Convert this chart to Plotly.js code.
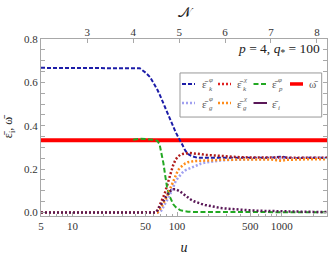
<!DOCTYPE html>
<html><head><meta charset="utf-8">
<script src="https://cdn.plot.ly/plotly-3.0.1.min.js"></script>
<style>html,body{margin:0;padding:0;background:#fff}#chart{width:332px;height:258px}</style>
</head><body><div id="chart"></div>
<script>
// ---- data ----
const u = [5, 10, 20, 30, 38, 44, 50, 55, 60, 62, 65, 68, 71, 74, 77, 80, 84, 88, 92, 97, 102, 107, 113, 120, 127, 135, 145, 155, 170, 185, 200, 230, 260, 300, 350, 400, 500, 600, 700, 800, 900, 1000, 1100, 1300, 1600, 2000, 2400, 2712];
const epsKphi = [0.667,0.667,0.667,0.667,0.667,0.665,0.645,0.625,0.595,0.585,0.565,0.545,0.523,0.503,0.483,0.462,0.44,0.42,0.395,0.37,0.35,0.333,0.31,0.285,0.27,0.262,0.256,0.253,0.252,0.252,0.253,0.254,0.252,0.251,0.252,0.253,0.252,0.251,0.252,0.253,0.256,0.258,0.254,0.251,0.252,0.253,0.252,0.252];
const epsKchi = [0,0,0,0,0,0,0,0,0,0,0.01,0.03,0.05,0.073,0.095,0.125,0.16,0.19,0.22,0.245,0.258,0.266,0.27,0.273,0.274,0.274,0.273,0.272,0.269,0.266,0.265,0.262,0.259,0.257,0.256,0.255,0.254,0.253,0.253,0.254,0.253,0.255,0.253,0.253,0.254,0.253,0.253,0.253];
const epsPphi = [null,null,null,null,0.336,0.34,0.339,0.338,0.336,0.334,0.33,0.315,0.27,0.228,0.17,0.12,0.08,0.055,0.038,0.025,0.016,0.011,0.008,0.005,0.004,0.003,0.003,0.003,0.002,0.002,0.002,0.002,0.002,0.002,0.001,0.001,0.001,0.001,0.001,0.001,0.001,0.001,0.001,0.001,0.001,0.001,0.001,0.001];
const epsGphi = [0,0,0,0,0,0,0,0,0,0,0,0,0.01,0.025,0.04,0.055,0.075,0.095,0.118,0.145,0.16,0.172,0.185,0.195,0.2,0.207,0.214,0.219,0.226,0.23,0.233,0.237,0.24,0.242,0.244,0.245,0.246,0.247,0.247,0.248,0.248,0.249,0.248,0.249,0.249,0.249,0.249,0.249];
const epsGchi = [0,0,0,0,0,0,0,0,0,0,0,0.01,0.025,0.04,0.058,0.075,0.1,0.125,0.15,0.175,0.195,0.207,0.218,0.227,0.232,0.235,0.237,0.238,0.238,0.239,0.239,0.241,0.243,0.244,0.245,0.245,0.245,0.245,0.246,0.244,0.241,0.239,0.243,0.245,0.245,0.246,0.245,0.245];
const epsI = [0,0,0,0,0,0,0,0,0,0,0.01,0.025,0.04,0.055,0.07,0.083,0.095,0.103,0.107,0.107,0.103,0.097,0.088,0.078,0.068,0.06,0.052,0.046,0.04,0.035,0.031,0.025,0.021,0.018,0.015,0.013,0.01,0.008,0.007,0.006,0.006,0.005,0.005,0.004,0.004,0.003,0.003,0.003];
const omegaU = [5, 2712];
const omegaBar = [1/3, 1/3];

// ---- ticks ----
const uTickVals = [5, 10, 50, 100, 500, 1000];
const uTickText = ['5', '10', '50', '100', '500', '1000'];
const uMinorVals = [6,7,8,9,20,30,40,60,70,80,90,200,300,400,600,700,800,900,2000];
const nTickVals = [3, 4, 5, 6, 7, 8];
const nTickText = ['3', '4', '5', '6', '7', '8'];
const yTickVals = [0, 0.2, 0.4, 0.6, 0.8];

// ---- styles ----
const FONT = 'Liberation Serif, DejaVu Serif, serif';
const C = {kphi:'#1c1ca8', kchi:'#b01c1c', pphi:'#22a822', omega:'#ff0000', gphi:'#a0a0f0', gchi:'#ff8c1a', i:'#5a1858'};
const AX = '#a8a8a8';

const W = 332, H = 258;
const M = {l:41, r:5, t:39.4, b:41.9};
const pw = W - M.l - M.r, ph = H - M.t - M.b;
const px = x => (x - M.l) / pw;
const py = y => (H - M.b - y) / ph;

const traces = [
  {x: omegaU, y: omegaBar, mode:'lines', line:{color:C.omega, width:4}, hoverinfo:'skip'},
  {x: u, y: epsKphi, mode:'lines', line:{color:C.kphi, width:2, dash:'4px,2px'}},
  {x: u, y: epsKchi, mode:'lines', line:{color:C.kchi, width:2.5, dash:'2px,2px'}},
  {x: u, y: epsPphi, mode:'lines', line:{color:C.pphi, width:2, dash:'5px,2.5px'}, connectgaps:false},
  {x: u, y: epsGphi, mode:'lines', line:{color:C.gphi, width:2.5, dash:'2px,2px'}},
  {x: u, y: epsGchi, mode:'lines', line:{color:C.gchi, width:2.5, dash:'2px,2px'}},
  {x: u, y: epsI, mode:'lines', line:{color:C.i, width:2.5, dash:'2px,2px'}},
  {x: nTickVals, y: nTickVals.map(() => 0.5), xaxis:'x2', mode:'lines', line:{width:0}, opacity:0, hoverinfo:'skip'}
];
traces.forEach(t => t.showlegend = false);

// ---- manual legend (box, keys, labels) in paper coordinates ----
const shapes = [
  {type:'rect', xref:'paper', yref:'paper', x0:px(180), x1:px(321.7), y0:py(117.3), y1:py(73.3),
   line:{color:'#999', width:1}, fillcolor:'#fff', layer:'above'}
];
const annotations = [];
const legendItems = [
  {col:0,row:0,color:C.kphi,dash:'4px,2px',w:2,base:'ε̄',sup:'φ',sub:'k'},
  {col:1,row:0,color:'#e02020',dash:'2px,2px',w:2.5,base:'ε̄',sup:'χ',sub:'k'},
  {col:2,row:0,color:C.pphi,dash:'5px,2.5px',w:2,base:'ε̄',sup:'φ',sub:'p'},
  {col:3,row:0,color:C.omega,dash:'solid',w:3.5,base:'ω̄',sup:'',sub:''},
  {col:0,row:1,color:C.gphi,dash:'2px,2px',w:2.5,base:'ε̄',sup:'φ',sub:'g'},
  {col:1,row:1,color:C.gchi,dash:'2px,2px',w:2.5,base:'ε̄',sup:'χ',sub:'g'},
  {col:2,row:1,color:C.i,dash:'solid',w:2,base:'ε̄',sup:'',sub:'i'}
];
const colX = [[182,195,201],[218,231,235.5],[253.5,267,270.5],[290,303,308]];
const rowY = [84.3, 103.3];
const LC = '#555';
legendItems.forEach(it => {
  const [a,b,t] = colX[it.col]; const y = rowY[it.row];
  shapes.push({type:'line', xref:'paper', yref:'paper', x0:px(a), x1:px(b), y0:py(y), y1:py(y),
    line:{color:it.color, width:it.w, dash:it.dash}, layer:'above'});
  annotations.push({xref:'paper', yref:'paper', x:px(t), y:py(y+0.5), xanchor:'left', yanchor:'middle',
    text:it.base, showarrow:false, borderpad:0, font:{family:FONT, size:11, color:LC}});
  if (it.sup) {
    annotations.push({xref:'paper', yref:'paper', x:px(t+6.5), y:py(y-4.3), xanchor:'left', yanchor:'middle',
      text:'<i>'+it.sup+'</i>', showarrow:false, borderpad:0, font:{family:FONT, size:7, color:LC}});
  }
  if (it.sub) {
    annotations.push({xref:'paper', yref:'paper', x:px(t+6.5), y:py(y+4.7), xanchor:'left', yanchor:'middle',
      text:'<i>'+it.sub+'</i>', showarrow:false, borderpad:0, font:{family:FONT, size:7, color:LC}});
  }
});
annotations.push({xref:'paper', yref:'paper', x:px(322), y:py(50), xanchor:'right', yanchor:'middle',
  text:'<i>p</i> = 4, <i>q</i><sub>*</sub> = 100', showarrow:false, font:{family:FONT, size:13.5, color:'#222'}});

const layout = {
  width:W, height:H, margin:M, paper_bgcolor:'#fff', plot_bgcolor:'#fff',
  font:{family:FONT, size:11, color:'#333'}, showlegend:false,
  xaxis:{type:'log', range:[Math.log10(5), Math.log10(2712)], tickmode:'array', tickvals:uTickVals, ticktext:uTickText,
    ticks:'inside', ticklen:4, tickcolor:AX, showline:true, linecolor:AX, linewidth:1, mirror:true,
    showgrid:false, zeroline:false, tickfont:{family:FONT, size:11, color:'#333'},
    minor:{tickmode:'array', tickvals:uMinorVals, ticks:'inside', ticklen:2, tickcolor:AX, showgrid:false},
    title:{text:'<i>u</i>', font:{family:FONT, size:14, color:'#222'}, standoff:10}},
  xaxis2:{overlaying:'x', side:'top', range:[1.99, 8.22], tickmode:'array', tickvals:nTickVals, ticktext:nTickText,
    ticks:'inside', ticklen:4, tickcolor:AX, showline:false, showgrid:false, zeroline:false,
    tickfont:{family:FONT, size:11, color:'#333'},
    title:{text:'𝒩', font:{family:FONT, size:14, color:'#222'}, standoff:4}},
  yaxis:{range:[-0.016, 0.8], tickmode:'array', tickvals:yTickVals, tickformat:'.1f',
    ticks:'inside', ticklen:4, tickcolor:AX, showline:true, linecolor:AX, linewidth:1, mirror:'allticks',
    showgrid:false, zeroline:false, tickfont:{family:FONT, size:11, color:'#333'},
    minor:{dtick:0.05, ticks:'inside', ticklen:2, tickcolor:AX, showgrid:false},
    title:{text:'ε̄<sub>i</sub>, ω̄', font:{family:FONT, size:12, color:'#222'}, standoff:8}},
  shapes:shapes, annotations:annotations
};
Plotly.newPlot('chart', traces, layout, {staticPlot:true, displayModeBar:false});
</script></body></html>
